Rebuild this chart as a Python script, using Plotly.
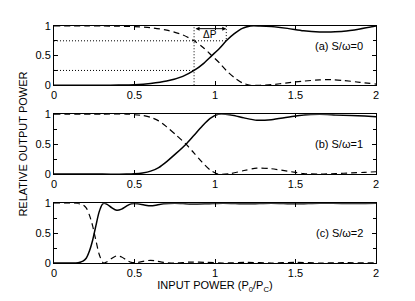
import plotly.graph_objects as go
from plotly.subplots import make_subplots

# ---------------- data ----------------
a_x = [0, 0.2, 0.3, 0.4, 0.5, 0.6, 0.7, 0.8, 0.87, 0.93, 0.98, 1.03, 1.07, 1.12, 1.17,
       1.22, 1.28, 1.35, 1.45, 1.55, 1.65, 1.72, 1.8, 1.9, 2.0]
a_solid = [0, 0, 0, 0.003, 0.01, 0.03, 0.07, 0.15, 0.25, 0.37, 0.5, 0.63, 0.75, 0.87, 0.96,
           1.0, 1.0, 0.99, 0.96, 0.92, 0.9, 0.9, 0.91, 0.95, 1.0]
a_dashed = [1, 1, 1, 0.997, 0.99, 0.97, 0.93, 0.85, 0.75, 0.63, 0.5, 0.37, 0.25, 0.13, 0.04,
            0.0, 0.0, 0.01, 0.04, 0.07, 0.09, 0.095, 0.08, 0.05, 0.02]

b_x = [0, 0.3, 0.45, 0.5, 0.55, 0.6, 0.65, 0.7, 0.76, 0.82, 0.87, 0.92, 0.97, 1.02, 1.1,
       1.18, 1.26, 1.35, 1.45, 1.55, 1.65, 1.75, 1.85, 1.93, 2.0]
b_solid = [0, 0, 0, 0.005, 0.02, 0.05, 0.11, 0.21, 0.35, 0.5, 0.65, 0.8, 0.93, 1.0, 0.99,
           0.94, 0.9, 0.91, 0.95, 0.99, 1.0, 0.99, 0.98, 0.97, 0.96]
b_dashed = [1, 1, 1, 0.995, 0.98, 0.95, 0.89, 0.79, 0.65, 0.5, 0.35, 0.2, 0.07, 0.0, 0.01,
            0.06, 0.1, 0.09, 0.05, 0.01, 0.0, 0.01, 0.02, 0.03, 0.04]

c_x = [0, 0.1, 0.15, 0.18, 0.2, 0.22, 0.24, 0.25, 0.26, 0.28, 0.3, 0.31, 0.33, 0.36, 0.39,
       0.42, 0.45, 0.48, 0.52, 0.56, 0.6, 0.64, 0.68, 0.75, 0.85, 0.95, 1.05, 1.2, 1.35,
       1.5, 1.65, 1.8, 2.0]
c_solid = [0, 0, 0.005, 0.03, 0.08, 0.2, 0.38, 0.5, 0.62, 0.85, 0.98, 1.0, 0.98, 0.92, 0.88,
           0.9, 0.95, 0.99, 0.99, 0.97, 0.955, 0.97, 0.99, 1.0, 0.985, 0.99, 1.0, 0.99, 1.0,
           0.99, 1.0, 0.995, 1.0]
c_dashed = [1, 1, 0.995, 0.97, 0.92, 0.8, 0.62, 0.5, 0.38, 0.15, 0.02, 0.0, 0.02, 0.08, 0.12,
            0.1, 0.05, 0.01, 0.01, 0.03, 0.045, 0.03, 0.01, 0.0, 0.015, 0.01, 0.0, 0.01, 0.0,
            0.01, 0.0, 0.005, 0.0]

panel_labels = ["(a) S/ω=0", "(b) S/ω=1", "(c) S/ω=2"]
panel_label_y = [0.67, 0.5, 0.5]

# Delta-P guide in panel (a)
p_low, p_high = 0.87, 1.07
level_low, level_high = 0.25, 0.75
arrow_y = 0.955

x_ticks = [0, 0.5, 1, 1.5, 2]
x_ticktext = ["0", "0.5", "1", "1.5", "2"]
y_ticks = [0, 0.5, 1]
y_ticktext = ["0", "0.5", "1"]

# ---------------- figure ----------------
FONT = "Liberation Sans, Arial, Helvetica, sans-serif"
fig = make_subplots(rows=3, cols=1)

panels = [(a_x, a_solid, a_dashed), (b_x, b_solid, b_dashed), (c_x, c_solid, c_dashed)]
for i, (xs, s, d) in enumerate(panels, start=1):
    fig.add_trace(go.Scatter(x=xs, y=d, mode="lines",
                             line=dict(color="black", width=1.2, dash="6px,4px", shape="spline", smoothing=0.8),
                             showlegend=False, hoverinfo="skip"), row=i, col=1)
    fig.add_trace(go.Scatter(x=xs, y=s, mode="lines",
                             line=dict(color="black", width=1.5, shape="spline", smoothing=0.8),
                             showlegend=False, hoverinfo="skip"), row=i, col=1)

# dotted guides in panel (a)
dot = dict(color="black", width=1, dash="1px,2px")
fig.add_trace(go.Scatter(x=[0, p_high, p_high], y=[level_high, level_high, 1], mode="lines",
                         line=dot, showlegend=False, hoverinfo="skip"), row=1, col=1)
fig.add_trace(go.Scatter(x=[0, p_low], y=[level_low, level_low], mode="lines",
                         line=dot, showlegend=False, hoverinfo="skip"), row=1, col=1)
fig.add_trace(go.Scatter(x=[p_low, p_low], y=[0, 1], mode="lines",
                         line=dot, showlegend=False, hoverinfo="skip"), row=1, col=1)

domains = [[0.75, 1.0], [0.375, 0.6275], [0.0, 0.2525]]
for i in range(1, 4):
    xa = "xaxis" if i == 1 else f"xaxis{i}"
    ya = "yaxis" if i == 1 else f"yaxis{i}"
    fig.layout[xa].update(range=[0, 2], tickvals=x_ticks, ticktext=x_ticktext,
                          ticks="inside", ticklen=4, tickcolor="black", showline=True,
                          linecolor="black", linewidth=1, mirror="ticks", showgrid=False,
                          zeroline=False, tickfont=dict(size=11, color="black"))
    fig.layout[ya].update(domain=domains[i - 1], range=[0, 1], tickvals=y_ticks,
                          ticktext=y_ticktext, ticks="inside", ticklen=4, tickcolor="black",
                          showline=True, linecolor="black", linewidth=1, mirror="ticks",
                          showgrid=False, zeroline=False, tickfont=dict(size=11, color="black"),
                          minor=dict(tickvals=[0.25, 0.75], ticks="inside", ticklen=3,
                                     tickcolor="black", showgrid=False))
    xr = "x" if i == 1 else f"x{i}"
    yr = "y" if i == 1 else f"y{i}"
    fig.add_annotation(x=1.93, y=panel_label_y[i - 1], xref=xr, yref=yr, text=panel_labels[i - 1],
                       showarrow=False, xanchor="right", yanchor="middle",
                       font=dict(size=11, color="black"))

fig.layout.xaxis3.title = dict(text="INPUT POWER (P<sub>0</sub>/P<sub>C</sub>)",
                               font=dict(size=11, color="black"), standoff=2)

# Delta P arrow
fig.add_annotation(x=p_high, y=arrow_y, ax=p_low, ay=arrow_y, xref="x", yref="y",
                   axref="x", ayref="y", text="", showarrow=True, arrowside="end+start",
                   arrowhead=2, arrowsize=0.8, arrowwidth=1, arrowcolor="black",
                   standoff=0, startstandoff=0)
fig.add_annotation(x=(p_low + p_high) / 2, y=0.86, xref="x", yref="y", text="ΔP",
                   showarrow=False, font=dict(size=10, color="black"))

fig.add_annotation(x=-0.099, y=0.5, xref="paper", yref="paper", text="RELATIVE OUTPUT POWER",
                   textangle=-90, showarrow=False, xanchor="center", yanchor="middle",
                   font=dict(size=11, color="black"))

# page body adds an 8px offset, so the figure is sized to compensate
fig.update_layout(width=407, height=293, margin=dict(l=46, r=39, t=15, b=38),
                  paper_bgcolor="white", plot_bgcolor="white",
                  font=dict(family=FONT, size=11, color="black"))

fig.write_html("out.html")
